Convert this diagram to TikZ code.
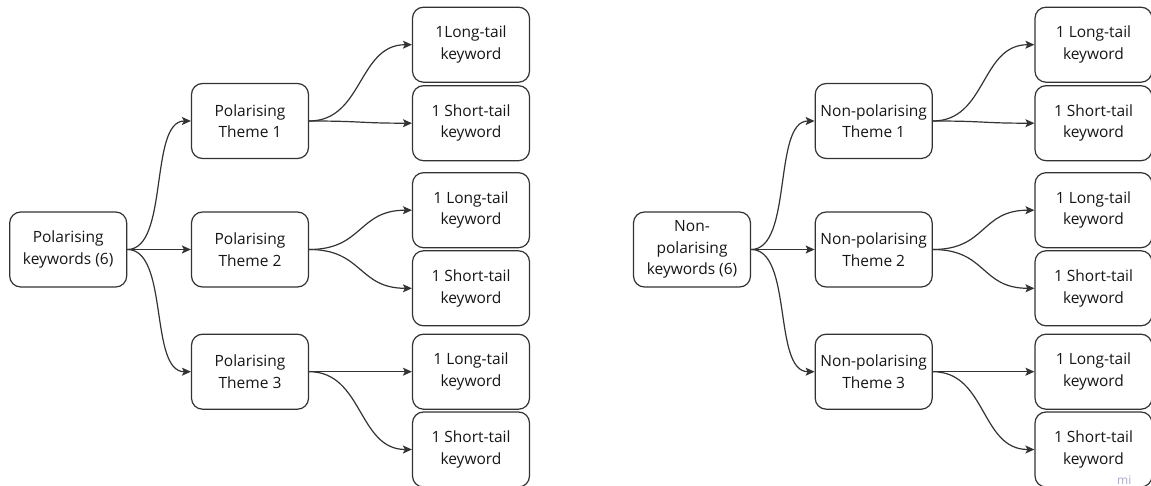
\documentclass[tikz,border=0pt]{standalone}
\usepackage{fontspec}
\setmainfont{Open Sans}
\usetikzlibrary{arrows.meta}
\definecolor{ln}{HTML}{333333}
\definecolor{tx}{HTML}{161616}
\definecolor{wm}{HTML}{ABA8CC}
\newcommand\conn[3]{\draw[edge] (#1.east) .. controls ([xshift=#3]#1.east) and ([xshift=-#3]#2.west) .. (#2.west);}
\begin{document}
\begin{tikzpicture}[x=1pt,y=-1pt,
  box/.style={draw=ln, line width=1.2pt, rounded corners=11pt, minimum width=117pt, minimum height=75pt, inner sep=0pt, align=center, text=tx, font=\fontsize{15.5}{21.5}\selectfont},
  edge/.style={draw=ln, line width=1.2pt, -{Stealth[length=9pt,width=8pt,inset=2pt]}},
  mark text/.style={text=wm, font=\fontsize{12}{12}\selectfont, inner sep=0pt}]
\useasboundingbox (0,0) rectangle (1151,486);
\clip (0,0) rectangle (1151,486);
% left tree
\node[box] (r1) at (68.2,249.5) {Polarising\\keywords (6)};
\node[box] (a1) at (250,121) {Polarising\\Theme 1};
\node[box] (a2) at (250,249.5) {Polarising\\Theme 2};
\node[box] (a3) at (250,371.7) {Polarising\\Theme 3};
\node[box] (l1) at (471,44.7) {1Long-tail\\keyword};
\node[box] (l2) at (471,123.2) {1 Short-tail\\keyword};
\node[box] (l3) at (471,210.2) {1 Long-tail\\keyword};
\node[box] (l4) at (471,288.3) {1 Short-tail\\keyword};
\node[box] (l5) at (471,371.7) {1 Long-tail\\keyword};
\node[box] (l6) at (471,449.5) {1 Short-tail\\keyword};
\conn{r1}{a1}{42pt}
\conn{r1}{a2}{42pt}
\conn{r1}{a3}{42pt}
\conn{a1}{l1}{54pt}
\conn{a1}{l2}{54pt}
\conn{a2}{l3}{54pt}
\conn{a2}{l4}{54pt}
\conn{a3}{l5}{54pt}
\conn{a3}{l6}{54pt}
% right tree
\node[box] (r2) at (692,249.5) {Non-\\polarising\\keywords (6)};
\node[box] (b1) at (873.7,121) {Non-polarising\\Theme 1};
\node[box] (b2) at (873.7,249.5) {Non-polarising\\Theme 2};
\node[box] (b3) at (873.7,371.7) {Non-polarising\\Theme 3};
\node[box] (m1) at (1093.5,44.7) {1 Long-tail\\keyword};
\node[box] (m2) at (1093.5,123.2) {1 Short-tail\\keyword};
\node[box] (m3) at (1093.5,210.2) {1 Long-tail\\keyword};
\node[box] (m4) at (1093.5,288.3) {1 Short-tail\\keyword};
\node[box] (m5) at (1093.5,371.7) {1 Long-tail\\keyword};
\node[box] (m6) at (1093.5,449.5) {1 Short-tail\\keyword};
\conn{r2}{b1}{42pt}
\conn{r2}{b2}{42pt}
\conn{r2}{b3}{42pt}
\conn{b1}{m1}{54pt}
\conn{b1}{m2}{54pt}
\conn{b2}{m3}{54pt}
\conn{b2}{m4}{54pt}
\conn{b3}{m5}{54pt}
\conn{b3}{m6}{54pt}
\node[mark text, anchor=base west] (wm) at (1117,484.5) {mi};
\end{tikzpicture}
\end{document}
